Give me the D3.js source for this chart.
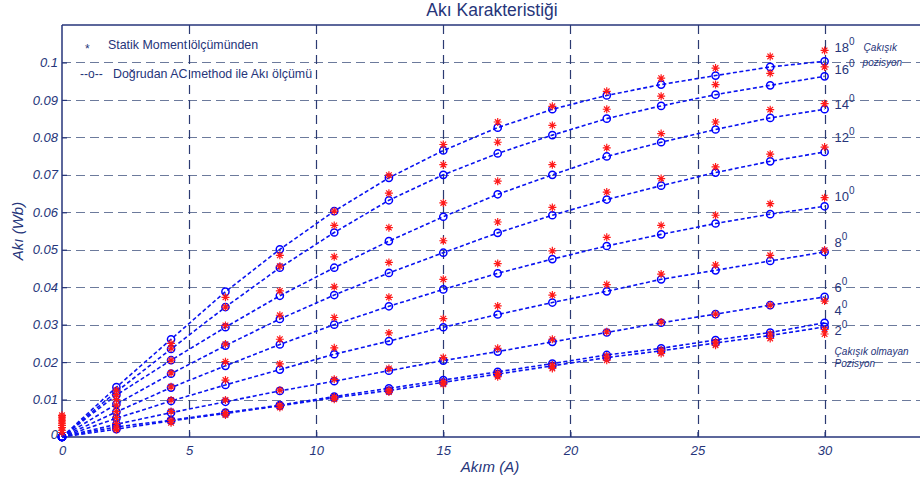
<!DOCTYPE html>
<html>
<head>
<meta charset="utf-8">
<script src="https://cdn.jsdelivr.net/npm/d3@7"></script>
<style>
  body { margin: 0; background: #fff; }
  svg { display: block; font-family: "Liberation Sans", Arial, sans-serif; }
</style>
</head>
<body>
<div id="chart"></div>
<script>
// DATA
// current (A) at which flux was measured
var current = [0, 2.14, 4.29, 6.43, 8.57, 10.71, 12.86, 15, 17.14, 19.29, 21.43, 23.57, 25.71, 27.86, 30];

// rotor angles (degrees), top curve first
var angles = [18, 16, 14, 12, 10, 8, 6, 4, 2];

// flux (Wb) from direct AC method, one array per angle
var ac18 = [0, 0.0133, 0.0261, 0.0388, 0.0501, 0.0603, 0.0692, 0.0765, 0.0826, 0.0875, 0.0912, 0.0941, 0.0965, 0.0988, 0.1003];
var ac16 = [0, 0.0121, 0.0235, 0.0347, 0.0452, 0.0546, 0.0632, 0.0700, 0.0757, 0.0806, 0.0850, 0.0884, 0.0914, 0.0939, 0.0963];
var ac14 = [0, 0.0112, 0.0205, 0.0293, 0.0377, 0.0452, 0.0523, 0.0588, 0.0648, 0.0700, 0.0749, 0.0787, 0.0821, 0.0852, 0.0875];
var ac12 = [0, 0.0088, 0.0169, 0.0244, 0.0315, 0.0379, 0.0438, 0.0492, 0.0545, 0.0592, 0.0634, 0.0671, 0.0706, 0.0736, 0.0761];
var ac10 = [0, 0.0067, 0.0132, 0.0190, 0.0247, 0.0300, 0.0349, 0.0394, 0.0437, 0.0475, 0.0510, 0.0541, 0.0570, 0.0595, 0.0616];
var ac8  = [0, 0.0050, 0.0096, 0.0139, 0.0180, 0.0221, 0.0256, 0.0293, 0.0327, 0.0359, 0.0389, 0.0421, 0.0445, 0.0470, 0.0494];
var ac6  = [0, 0.0034, 0.0065, 0.0094, 0.0123, 0.0149, 0.0177, 0.0204, 0.0228, 0.0254, 0.0279, 0.0305, 0.0328, 0.0352, 0.0374];
var ac4  = [0, 0.0027, 0.0045, 0.0065, 0.0085, 0.0108, 0.0130, 0.0152, 0.0174, 0.0196, 0.0219, 0.0237, 0.0259, 0.0279, 0.0305];
var ac2  = [0, 0.0021, 0.0043, 0.0063, 0.0083, 0.0105, 0.0124, 0.0146, 0.0168, 0.0190, 0.0212, 0.0230, 0.0251, 0.0271, 0.0294];

// flux (Wb) from static moment measurement, one array per angle
var st18 = [0.0058, 0.0125, 0.0250, 0.0373, 0.0485, 0.0603, 0.0699, 0.0781, 0.0841, 0.0883, 0.0923, 0.0958, 0.0985, 0.1016, 0.1032];
var st16 = [0.0053, 0.0113, 0.0237, 0.0347, 0.0456, 0.0565, 0.0651, 0.0727, 0.0787, 0.0832, 0.0875, 0.0910, 0.0941, 0.0971, 0.0988];
var st14 = [0.0048, 0.0100, 0.0205, 0.0298, 0.0390, 0.0481, 0.0559, 0.0625, 0.0683, 0.0727, 0.0772, 0.0810, 0.0841, 0.0874, 0.0890];
var st12 = [0.0043, 0.0085, 0.0171, 0.0248, 0.0325, 0.0401, 0.0466, 0.0524, 0.0574, 0.0613, 0.0654, 0.0690, 0.0721, 0.0755, 0.0774];
var st10 = [0.0037, 0.0068, 0.0134, 0.0201, 0.0261, 0.0319, 0.0373, 0.0421, 0.0463, 0.0497, 0.0533, 0.0565, 0.0592, 0.0623, 0.0639];
var st8  = [0.0031, 0.0052, 0.0099, 0.0152, 0.0195, 0.0238, 0.0278, 0.0316, 0.0350, 0.0379, 0.0407, 0.0435, 0.0459, 0.0485, 0.0499];
var st6  = [0.0025, 0.0036, 0.0068, 0.0099, 0.0125, 0.0154, 0.0183, 0.0212, 0.0237, 0.0261, 0.0281, 0.0307, 0.0328, 0.0352, 0.0363];
var st4  = [0.0018, 0.0024, 0.0045, 0.0065, 0.0085, 0.0107, 0.0125, 0.0147, 0.0170, 0.0192, 0.0216, 0.0232, 0.0254, 0.0275, 0.0287];
var st2  = [0.0012, 0.0020, 0.0038, 0.0059, 0.0079, 0.0101, 0.0120, 0.0141, 0.0161, 0.0183, 0.0205, 0.0223, 0.0245, 0.0263, 0.0275];

// where each angle label sits (flux value at the right end)
var angleLabelFlux = [0.1027, 0.0968, 0.0877, 0.0787, 0.0630, 0.0507, 0.0387, 0.0325, 0.0272];

// axis ticks
var xTicks = [0, 5, 10, 15, 20, 25, 30];
var yTicks = [0, 0.01, 0.02, 0.03, 0.04, 0.05, 0.06, 0.07, 0.08, 0.09, 0.1];
var yTickLabels = ["0", "0.01", "0.02", "0.03", "0.04", "0.05", "0.06", "0.07", "0.08", "0.09", "0.1"];

var acSeries = [ac18, ac16, ac14, ac12, ac10, ac8, ac6, ac4, ac2];
var stSeries = [st18, st16, st14, st12, st10, st8, st6, st4, st2];

// SETUP
var W = 920, H = 481;
var navy = "#26357a";
var margin = { left: 62, top: 25, bottom: 44 };

var x = d3.scaleLinear().domain([0, 35]).range([margin.left, margin.left + 35 * 25.42]);
var y = d3.scaleLinear().domain([0, 0.11]).range([H - margin.bottom, margin.top]);

var svg = d3.select("#chart").append("svg")
  .attr("width", W)
  .attr("height", H);

// grid lines
svg.append("g")
  .selectAll("line")
  .data(yTicks.slice(1))
  .enter().append("line")
  .attr("x1", x(0)).attr("x2", W)
  .attr("y1", function (d) { return Math.round(y(d)) + 0.5; })
  .attr("y2", function (d) { return Math.round(y(d)) + 0.5; })
  .attr("stroke", "#6c7a9c")
  .attr("stroke-width", 1.2)
  .attr("stroke-dasharray", "9,5");

svg.append("g")
  .selectAll("line")
  .data(xTicks.slice(1))
  .enter().append("line")
  .attr("x1", function (d) { return Math.round(x(d)) + 0.5; })
  .attr("x2", function (d) { return Math.round(x(d)) + 0.5; })
  .attr("y1", y(0.11)).attr("y2", y(0))
  .attr("stroke", "#2c3b72")
  .attr("stroke-width", 1.2)
  .attr("stroke-dasharray", "9,6");

// axes
var xAxis = d3.axisBottom(x).tickValues(xTicks).tickSize(-5).tickPadding(9).tickFormat(d3.format("d"));
var yAxis = d3.axisLeft(y).tickValues(yTicks).tickSize(-5).tickPadding(4)
  .tickFormat(function (d, i) { return yTickLabels[i]; });

var gx = svg.append("g").attr("transform", "translate(0," + y(0) + ")").call(xAxis);
var gy = svg.append("g").attr("transform", "translate(" + x(0) + ",0)").call(yAxis);

[gx, gy].forEach(function (g) {
  g.select(".domain").remove();
  g.selectAll("line").attr("stroke", navy).attr("stroke-width", 1.2);
  g.selectAll("text")
    .attr("fill", navy)
    .style("font-size", "13px")
    .style("font-style", "italic");
});
gy.selectAll(".tick").filter(function (d) { return d === 0; }).select("text").attr("dy", "0.15em");

// frame: left, bottom, top
svg.append("line").attr("x1", x(0)).attr("x2", x(0)).attr("y1", y(0.11)).attr("y2", y(0))
  .attr("stroke", navy).attr("stroke-width", 1.5);
svg.append("line").attr("x1", x(0)).attr("x2", W).attr("y1", y(0)).attr("y2", y(0))
  .attr("stroke", navy).attr("stroke-width", 1.5);
svg.append("line").attr("x1", x(0)).attr("x2", W).attr("y1", y(0.11)).attr("y2", y(0.11))
  .attr("stroke", navy).attr("stroke-width", 1.5);

// AC method curves
var line = d3.line()
  .x(function (d, i) { return x(current[i]); })
  .y(function (d) { return y(d); });

svg.append("g")
  .selectAll("path")
  .data(acSeries)
  .enter().append("path")
  .attr("d", line)
  .attr("fill", "none")
  .attr("stroke", "#0a14f0")
  .attr("stroke-width", 1.6)
  .attr("stroke-dasharray", "4,2.5");

acSeries.forEach(function (s) {
  svg.append("g")
    .selectAll("circle")
    .data(s)
    .enter().append("circle")
    .attr("cx", function (d, i) { return x(current[i]); })
    .attr("cy", function (d) { return y(d); })
    .attr("r", 3.6)
    .attr("fill", "none")
    .attr("stroke", "#0000ff")
    .attr("stroke-width", 1.5);
});

// static moment stars
var starPath = "M-4,0H4M0,-4V4M-2.8,-2.8L2.8,2.8M-2.8,2.8L2.8,-2.8";
stSeries.forEach(function (s) {
  svg.append("g")
    .selectAll("path")
    .data(s)
    .enter().append("path")
    .attr("d", starPath)
    .attr("transform", function (d, i) { return "translate(" + x(current[i]) + "," + y(d) + ")"; })
    .attr("fill", "none")
    .attr("stroke", "#ff1a1a")
    .attr("stroke-width", 1.2);
});

// angle labels
var labels = svg.append("g")
  .selectAll("text")
  .data(angles)
  .enter().append("text")
  .attr("x", x(30) + 10)
  .attr("y", function (d, i) { return y(angleLabelFlux[i]); })
  .attr("fill", navy)
  .style("font-size", "13px");
labels.append("tspan").text(function (d) { return d; });
labels.append("tspan").attr("dy", "-0.7em").style("font-size", "10px").text("0");

// position notes
svg.append("text").attr("x", x(30) + 39).attr("y", y(0.1027) - 1)
  .attr("fill", navy).style("font-size", "10px").style("font-style", "italic").text("Çakışık");
svg.append("text").attr("x", x(30) + 38).attr("y", y(0.1027) + 14)
  .attr("fill", navy).style("font-size", "10px").style("font-style", "italic").text("pozisyon");
svg.append("text").attr("x", x(30) + 10).attr("y", y(0.0272) + 20)
  .attr("fill", navy).style("font-size", "10px").style("font-style", "italic").text("Çakışık olmayan");
svg.append("text").attr("x", x(30) + 10).attr("y", y(0.0272) + 32)
  .attr("fill", navy).style("font-size", "10px").style("font-style", "italic").text("Pozisyon");

// legend
svg.append("text").attr("x", 85).attr("y", 53).attr("fill", navy).style("font-size", "12px").text("*");
svg.append("text").attr("x", 108).attr("y", 49).attr("fill", navy).style("font-size", "12.4px").text("Statik Moment ölçümünden");
svg.append("text").attr("x", 80).attr("y", 78).attr("fill", navy).style("font-size", "12px").text("--o--");
svg.append("text").attr("x", 113).attr("y", 78).attr("fill", navy).style("font-size", "12.4px").text("Doğrudan AC method ile Akı ölçümü");

// title and axis labels
svg.append("text").attr("x", 492).attr("y", 16).attr("text-anchor", "middle")
  .attr("fill", navy).style("font-size", "17.5px").text("Akı Karakteristiği");
svg.append("text").attr("x", 490).attr("y", 472).attr("text-anchor", "middle")
  .attr("fill", navy).style("font-size", "15px").style("font-style", "italic").text("Akım (A)");
svg.append("text").attr("transform", "translate(23,231) rotate(-90)").attr("text-anchor", "middle")
  .attr("fill", navy).style("font-size", "15px").style("font-style", "italic").text("Akı (Wb)");
</script>
</body>
</html>
